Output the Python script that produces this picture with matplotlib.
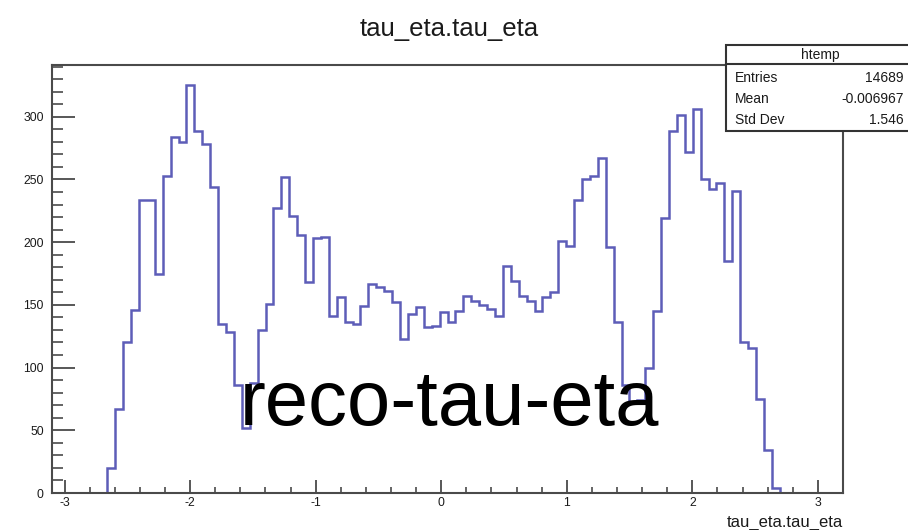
import numpy as np
import matplotlib
matplotlib.use("Agg")
import matplotlib.pyplot as plt
from matplotlib.patches import Rectangle
from matplotlib.lines import Line2D
from matplotlib.ticker import MultipleLocator

plt.rcParams['font.family'] = ['Liberation Sans', 'DejaVu Sans']
plt.rcParams['axes.unicode_minus'] = False

# tau eta histogram: 100 bins between -3.1 and 3.2
x_min, x_max, n_bins = -3.1, 3.2, 100
counts = [
    0, 0, 0, 0, 0, 0, 0, 20, 67, 120,
    146, 234, 234, 175, 253, 284, 280, 325, 289, 278,
    244, 135, 128, 86, 52, 88, 130, 151, 227, 252,
    221, 206, 168, 203, 204, 141, 156, 136, 135, 149,
    167, 164, 161, 152, 123, 143, 148, 132, 133, 144,
    136, 145, 157, 153, 150, 147, 141, 181, 169, 157,
    153, 145, 156, 160, 201, 197, 234, 250, 253, 267,
    196, 136, 86, 72, 74, 100, 145, 219, 289, 301,
    272, 306, 250, 242, 247, 185, 241, 120, 116, 75,
    34, 4, 0, 0, 0, 0, 0, 0, 0, 0,
]
x_ticks = [-3, -2, -1, 0, 1, 2, 3]
y_ticks = [0, 50, 100, 150, 200, 250, 300]

title = "tau_eta.tau_eta"
x_label = "tau_eta.tau_eta"
overlay = "reco-tau-eta"
stats_name = "htemp"
stats_rows = [("Entries", "14689"), ("Mean", "-0.006967"), ("Std Dev", "1.546")]

W, H = 908, 530
fig = plt.figure(figsize=(W / 100, H / 100), dpi=100)
ax = fig.add_axes([52 / W, 1 - 493 / H, (843 - 52) / W, (493 - 65) / H])

edges = np.linspace(x_min, x_max, n_bins + 1)
line_color = '#5d5db8'
ax.stairs(counts, edges, color=line_color, linewidth=1.8, baseline=0, zorder=1)

ax.set_xlim(x_min, x_max)
ax.set_ylim(0, 1.05 * max(counts))

frame_color = '#4a4a4a'
for side in ['left', 'bottom', 'top', 'right']:
    ax.spines[side].set_color(frame_color)
    ax.spines[side].set_linewidth(1.5)
    ax.spines[side].set_zorder(3)

ax.set_xticks(x_ticks)
ax.set_yticks(y_ticks)
ax.xaxis.set_minor_locator(MultipleLocator(0.2))
ax.yaxis.set_minor_locator(MultipleLocator(10))
ax.tick_params(axis='y', which='major', direction='in', length=16.5, width=1.3,
               color=frame_color, labelsize=8.8, pad=6)
ax.tick_params(axis='y', which='minor', direction='in', length=8.2, width=1.2,
               color=frame_color)
ax.tick_params(axis='x', which='major', direction='in', length=9.2, width=1.3,
               color=frame_color, labelsize=8.8, pad=3)
ax.tick_params(axis='x', which='minor', direction='in', length=4.6, width=1.2,
               color=frame_color)
ax.tick_params(top=False, right=False, which='both')
for lab in ax.get_xticklabels() + ax.get_yticklabels():
    lab.set_color('#1a1a1a')

# title and axis title
fig.text(449 / W, 1 - 29 / H, title, ha='center', va='center', fontsize=18.5,
         color='#1a1a1a')
fig.text(843 / W, 1 - 523 / H, x_label, ha='right', va='center', fontsize=12,
         color='#1a1a1a')

# large overlay label
fig.text(240 / W, 1 - 425 / H, overlay, ha='left', va='baseline', fontsize=56,
         color='black')

# statistics box
bx0, by_top, bx1, by_bot, by_sep = 726, 45, 915, 131, 64
fig.patches.append(Rectangle((bx0 / W, 1 - by_bot / H), (bx1 - bx0) / W,
                             (by_bot - by_top) / H, transform=fig.transFigure,
                             facecolor='white', edgecolor='#333333',
                             linewidth=1.5, zorder=5))
fig.lines.append(Line2D([bx0 / W, bx1 / W], [1 - by_sep / H, 1 - by_sep / H],
                        transform=fig.transFigure, color='#333333',
                        linewidth=1.5, zorder=6))
fig.text(820 / W, 1 - 55 / H, stats_name, ha='center', va='center',
         fontsize=10, color='#1a1a1a', zorder=7)
for i, (name, val) in enumerate(stats_rows):
    yy = 1 - (78 + 21 * i) / H
    fig.text(735 / W, yy, name, ha='left', va='center', fontsize=10,
             color='#1a1a1a', zorder=7)
    fig.text(904 / W, yy, val, ha='right', va='center', fontsize=10,
             color='#1a1a1a', zorder=7)

fig.savefig("out.png", dpi=100)
